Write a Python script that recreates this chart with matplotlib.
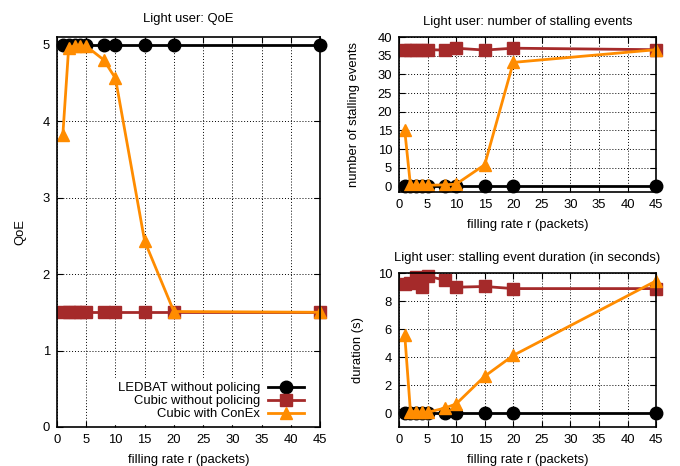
import matplotlib.pyplot as plt

plt.rcParams['font.family'] = ['Liberation Sans', 'DejaVu Sans']
plt.rcParams['font.size'] = 9.4

# filling rate r (packets)
rate = [1, 2, 3, 4, 5, 8, 10, 15, 20, 45]

# QoE
qoe_ledbat = [5, 5, 5, 5, 5, 5, 5, 5, 5, 5]
qoe_cubic = [1.5, 1.5, 1.5, 1.5, 1.5, 1.5, 1.5, 1.5, 1.5, 1.5]
qoe_conex = [3.82, 4.96, 4.98, 4.98, 4.98, 4.8, 4.56, 2.43, 1.51, 1.5]

# number of stalling events
stall_ledbat = [0, 0, 0, 0, 0, 0, 0, 0, 0, 0]
stall_cubic = [36.6, 36.6, 36.6, 36.6, 36.6, 36.5, 37.0, 36.5, 37.0, 36.6]
stall_conex = [15, 0.3, 0.3, 0.3, 0.3, 0.4, 0.6, 5.8, 33.2, 36.6]

# stalling event duration (s)
dur_ledbat = [0, 0, 0, 0, 0, 0, 0, 0, 0, 0]
dur_cubic = [9.25, 9.3, 9.7, 9.0, 9.8, 9.5, 9.0, 9.05, 8.9, 8.9]
dur_conex = [5.6, 0.1, 0.1, 0.05, 0.05, 0.35, 0.65, 2.63, 4.12, 9.45]

labels = ['LEDBAT without policing', 'Cubic without policing', 'Cubic with ConEx']
styles = [dict(color='black', marker='o', markersize=9),
          dict(color='#A52A2A', marker='s', markersize=9),
          dict(color='#FF8C00', marker='^', markersize=8)]


def setup(ax, title, ylabel, ylim, yticks):
    ax.set_xlim(0, 45)
    ax.set_ylim(*ylim)
    ax.set_xticks(range(0, 50, 5))
    ax.set_yticks(yticks)
    ax.set_title(title, fontsize=9.4, pad=9)
    ax.set_xlabel('filling rate r (packets)', labelpad=6)
    ax.set_ylabel(ylabel)
    ax.grid(True, color='black', linestyle=(0, (1, 2)), linewidth=0.7)
    ax.tick_params(direction='in', top=True, right=True, length=4, width=0.8, pad=5)
    for s in ax.spines.values():
        s.set_linewidth(1.2)


fig = plt.figure(figsize=(6.8, 4.66), dpi=100)

ax1 = fig.add_axes([0.0838, 0.0837, 0.3868, 0.837])
ax2 = fig.add_axes([0.5868, 0.588, 0.378, 0.3326])
ax3 = fig.add_axes([0.5868, 0.0837, 0.378, 0.330])

for ax, series in [(ax1, [qoe_ledbat, qoe_cubic, qoe_conex]),
                   (ax2, [stall_ledbat, stall_cubic, stall_conex]),
                   (ax3, [dur_ledbat, dur_cubic, dur_conex])]:
    for y, lab, st in zip(series, labels, styles):
        ax.plot(rate, y, label=lab, linewidth=2, clip_on=False, **st)

setup(ax1, 'Light user: QoE', 'QoE', (0, 5.1), range(0, 6))
setup(ax2, 'Light user: number of stalling events', 'number of stalling events',
      (-1.5, 40), range(0, 45, 5))
setup(ax3, 'Light user: stalling event duration (in seconds)', 'duration (s)',
      (-1, 10), range(0, 12, 2))

ax1.set_title('Light user: QoE', fontsize=9.4, pad=11)
ax1.yaxis.labelpad = 12
ax2.yaxis.labelpad = 13
ax3.yaxis.labelpad = 10

leg = ax1.legend(loc='lower right', bbox_to_anchor=(0.965, 0.0),
                 markerfirst=False, frameon=True, framealpha=1,
                 edgecolor='white', fancybox=False, handlelength=2.8,
                 borderaxespad=0.2, borderpad=0.3, labelspacing=0.08,
                 handletextpad=0.6, fontsize=9.4)

plt.savefig('out.png', dpi=100)
